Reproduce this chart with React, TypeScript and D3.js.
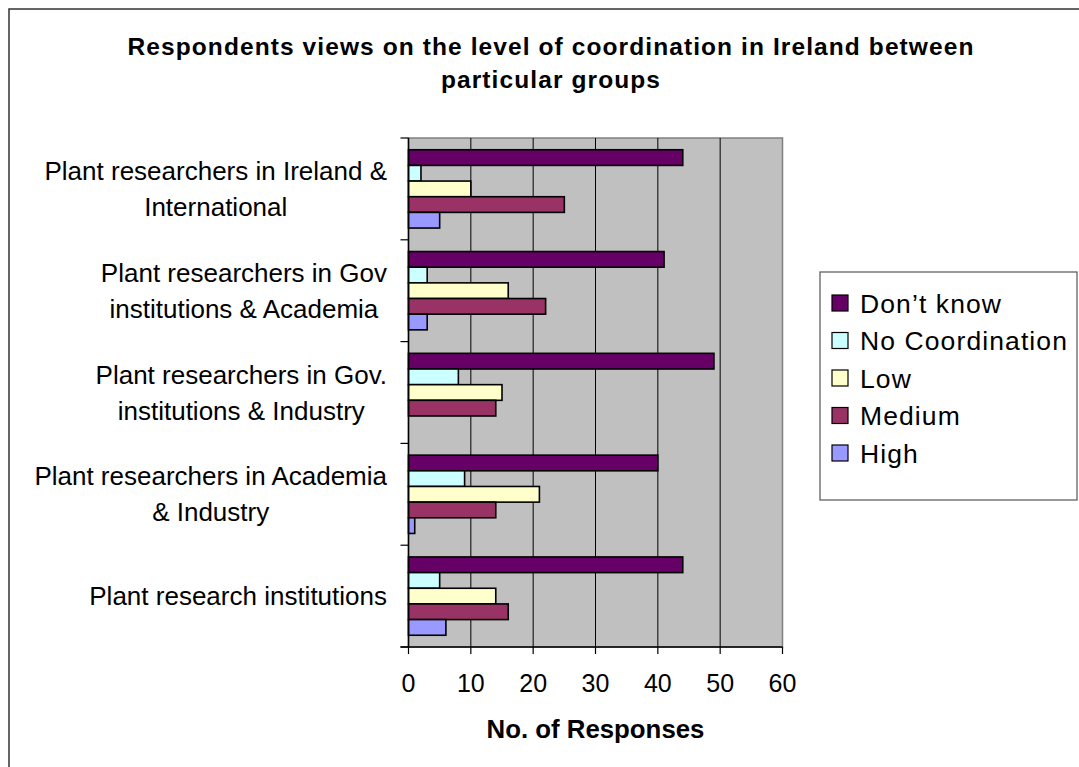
import React, { useEffect, useRef } from "react";
import * as d3 from "d3";

// Survey groups (top to bottom), each label split into its display lines
const categoryLines: string[][] = [
  ["Plant researchers in Ireland &", "International"],
  ["Plant researchers in Gov", "institutions & Academia"],
  ["Plant researchers in Gov.", "institutions & Industry"],
  ["Plant researchers in Academia", "& Industry"],
  ["Plant research institutions"],
];

const seriesNames = ["Don’t know", "No Coordination", "Low", "Medium", "High"];
const seriesColors = ["#660066", "#CCFFFF", "#FFFFCC", "#993366", "#9999FF"];

// Number of responses per group
const dontKnow = [44, 41, 49, 40, 44];
const noCoordination = [2, 3, 8, 9, 5];
const low = [10, 16, 15, 21, 14];
const medium = [25, 22, 14, 14, 16];
const high = [5, 3, 0, 1, 6];

const xTicks = [0, 10, 20, 30, 40, 50, 60];

const titleLines = [
  "Respondents views on the level of coordination in Ireland between",
  "particular groups",
];
const xAxisTitle = "No. of Responses";

const W = 1079;
const H = 767;
const FONT = "Liberation Sans, Arial, Helvetica, sans-serif";

export default function App() {
  const ref = useRef<SVGSVGElement>(null);

  useEffect(() => {
    document.body.style.margin = "0";
    const svg = d3.select(ref.current);
    svg.selectAll("*").remove();

    const values = [dontKnow, noCoordination, low, medium, high];
    const catKeys = categoryLines.map((l) => l.join(" "));

    const plot = { left: 408.5, right: 782.5, top: 138, bottom: 647 };

    const x = d3.scaleLinear().domain([0, 60]).range([plot.left, plot.right]);
    const y = d3.scaleBand<string>().domain(catKeys).range([plot.top, plot.bottom]).padding(0);
    const inner = d3
      .scaleBand<string>()
      .domain(seriesNames)
      .range([0, y.bandwidth()])
      .paddingInner(0)
      .paddingOuter(0.75);

    // outer chart frame
    svg
      .append("rect")
      .attr("x", 9)
      .attr("y", 9)
      .attr("width", 1200)
      .attr("height", 900)
      .attr("fill", "#fff")
      .attr("stroke", "#333")
      .attr("stroke-width", 1.5);

    // title: two centred bold lines, tracked out to the title block width
    const title = svg
      .append("g")
      .attr("font-family", FONT)
      .attr("font-weight", "bold")
      .attr("font-size", 24.5)
      .attr("text-anchor", "middle")
      .attr("fill", "#000");
    const titleTexts = titleLines.map((t, i) =>
      title
        .append("text")
        .attr("x", 551)
        .attr("y", 55 + i * 33)
        .text(t)
    );
    const first = titleTexts[0].node() as SVGTextElement;
    const natural = first.getComputedTextLength();
    const spacing = Math.max(0, (847 - natural) / titleLines[0].length);
    titleTexts.forEach((t) => t.attr("letter-spacing", spacing));

    // plot background
    svg
      .append("rect")
      .attr("x", plot.left)
      .attr("y", plot.top)
      .attr("width", plot.right - plot.left)
      .attr("height", plot.bottom - plot.top)
      .attr("fill", "#C0C0C0")
      .attr("stroke", "#808080")
      .attr("stroke-width", 1.5);

    // vertical gridlines
    svg
      .append("g")
      .selectAll("line")
      .data(xTicks.filter((t) => t > 0 && t < 60))
      .join("line")
      .attr("x1", (d) => x(d))
      .attr("x2", (d) => x(d))
      .attr("y1", plot.top)
      .attr("y2", plot.bottom)
      .attr("stroke", "#000")
      .attr("stroke-width", 1);

    // bars
    const barG = svg.append("g");
    catKeys.forEach((c, ci) => {
      seriesNames.forEach((s, si) => {
        const v = values[si][ci];
        if (v <= 0) return;
        barG
          .append("rect")
          .attr("x", x(0))
          .attr("y", (y(c) as number) + (inner(s) as number))
          .attr("width", x(v) - x(0))
          .attr("height", inner.bandwidth())
          .attr("fill", seriesColors[si])
          .attr("stroke", "#000")
          .attr("stroke-width", 1.6);
      });
    });

    // axes lines
    svg
      .append("line")
      .attr("x1", plot.left)
      .attr("x2", plot.left)
      .attr("y1", plot.top)
      .attr("y2", plot.bottom)
      .attr("stroke", "#000")
      .attr("stroke-width", 1.5);
    svg
      .append("line")
      .attr("x1", plot.left - 8)
      .attr("x2", plot.right)
      .attr("y1", plot.bottom)
      .attr("y2", plot.bottom)
      .attr("stroke", "#000")
      .attr("stroke-width", 1.5);

    // category boundary ticks
    const bounds = catKeys.map((c) => y(c) as number).concat([plot.bottom]);
    svg
      .append("g")
      .selectAll("line")
      .data(bounds)
      .join("line")
      .attr("x1", plot.left - 8)
      .attr("x2", plot.left)
      .attr("y1", (d) => d)
      .attr("y2", (d) => d)
      .attr("stroke", "#000")
      .attr("stroke-width", 1.2);

    // x ticks and labels
    const xt = svg.append("g");
    xt.selectAll("line")
      .data(xTicks)
      .join("line")
      .attr("x1", (d) => x(d))
      .attr("x2", (d) => x(d))
      .attr("y1", plot.bottom)
      .attr("y2", plot.bottom + 7)
      .attr("stroke", "#000")
      .attr("stroke-width", 1.2);
    xt.selectAll("text")
      .data(xTicks)
      .join("text")
      .attr("x", (d) => x(d))
      .attr("y", 692)
      .attr("text-anchor", "middle")
      .attr("font-family", FONT)
      .attr("font-size", 25)
      .attr("fill", "#000")
      .text((d) => String(d));

    svg
      .append("text")
      .attr("x", (plot.left + plot.right) / 2)
      .attr("y", 738)
      .attr("text-anchor", "middle")
      .attr("font-family", FONT)
      .attr("font-weight", "bold")
      .attr("font-size", 25.8)
      .attr("fill", "#000")
      .text(xAxisTitle);

    // category labels: lines centred on each other, block right-aligned
    const labelRight = 387;
    const lineGap = 36;
    categoryLines.forEach((lines, ci) => {
      const centre = (y(catKeys[ci]) as number) + y.bandwidth() / 2;
      const g = svg
        .append("g")
        .attr("font-family", FONT)
        .attr("font-size", 26)
        .attr("fill", "#000");
      const texts = lines.map((ln, li) =>
        g
          .append("text")
          .attr("text-anchor", "middle")
          .attr("y", centre + 9 + (li - (lines.length - 1) / 2) * lineGap)
          .text(ln)
      );
      const maxW = d3.max(texts, (t) => (t.node() as SVGTextElement).getComputedTextLength()) || 0;
      texts.forEach((t) => t.attr("x", labelRight - maxW / 2));
    });

    // legend
    const lg = svg.append("g");
    lg.append("rect")
      .attr("x", 820)
      .attr("y", 272)
      .attr("width", 257)
      .attr("height", 228)
      .attr("fill", "#fff")
      .attr("stroke", "#555")
      .attr("stroke-width", 1.2);
    seriesNames.forEach((s, si) => {
      const cy = 303 + si * 37.5;
      lg.append("rect")
        .attr("x", 832)
        .attr("y", cy - 8)
        .attr("width", 16)
        .attr("height", 16)
        .attr("fill", seriesColors[si])
        .attr("stroke", "#000")
        .attr("stroke-width", 1.2);
      lg.append("text")
        .attr("x", 860)
        .attr("y", cy + 9.5)
        .attr("font-family", FONT)
        .attr("font-size", 26.5)
        .attr("letter-spacing", 1.1)
        .attr("fill", "#000")
        .text(s);
    });
  }, []);

  return <svg ref={ref} width={W} height={H} style={{ display: "block" }} />;
}
